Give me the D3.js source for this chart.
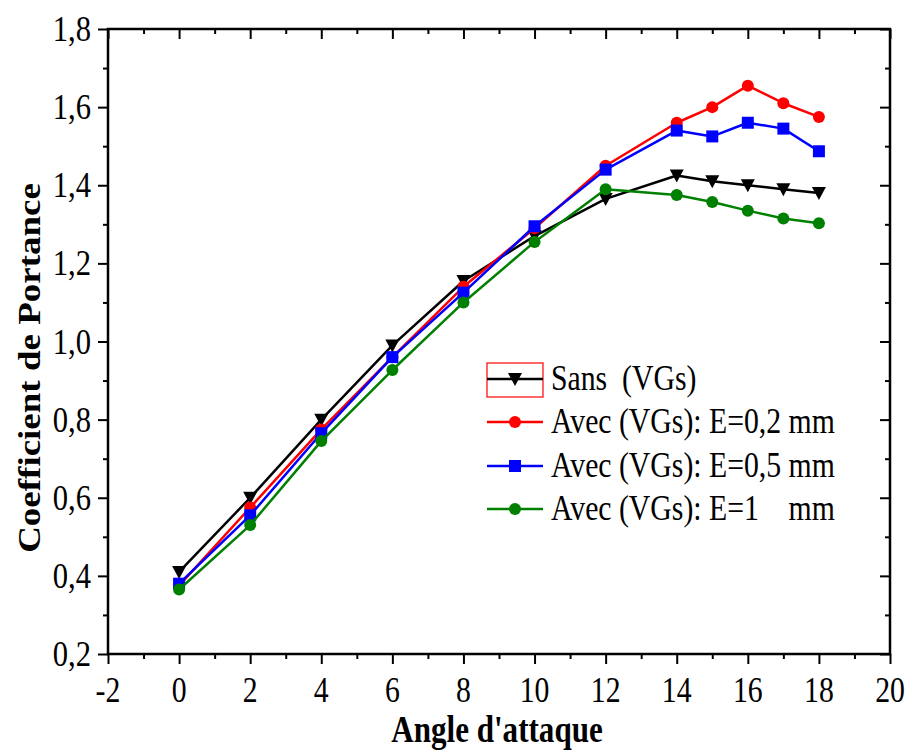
<!DOCTYPE html>
<html>
<head>
<meta charset="utf-8">
<script src="https://cdn.jsdelivr.net/npm/d3@7"></script>
<style>
  html, body { margin: 0; padding: 0; background: #fff; }
  svg { display: block; }
  text { font-family: "Liberation Serif", "Times New Roman", serif; fill: #000; white-space: pre; }
</style>
</head>
<body>
<svg id="chart" width="911" height="750"></svg>
<script>
// Angle of attack (degrees)
const angles = [0, 2, 4, 6, 8, 10, 12, 14, 15, 16, 17, 18];
// Lift coefficient for each configuration
const sansVGs = [0.41, 0.60, 0.80, 0.99, 1.155, 1.27, 1.365, 1.425, 1.41, 1.40, 1.39, 1.38];
const avecE02 = [0.375, 0.575, 0.775, 0.96, 1.14, 1.29, 1.45, 1.56, 1.60, 1.655, 1.61, 1.575];
const avecE05 = [0.38, 0.555, 0.765, 0.96, 1.125, 1.295, 1.44, 1.54, 1.525, 1.56, 1.545, 1.487];
const avecE1  = [0.365, 0.53, 0.745, 0.927, 1.10, 1.255, 1.39, 1.375, 1.357, 1.335, 1.315, 1.303];

const seriesNames = ["Sans  (VGs)", "Avec (VGs): E=0,2 mm", "Avec (VGs): E=0,5 mm", "Avec (VGs): E=1    mm"];
const seriesColors = ["#000000", "#ff0000", "#0000ff", "#008000"];
const seriesMarkers = ["triangleDown", "circle", "square", "circle"];

const xTickLabels = [-2, 0, 2, 4, 6, 8, 10, 12, 14, 16, 18, 20];
const yTickLabels = [0.2, 0.4, 0.6, 0.8, 1.0, 1.2, 1.4, 1.6, 1.8];

const svg = d3.select("#chart");
svg.append("rect").attr("width", 911).attr("height", 750).attr("fill", "#fff");

const plotL = 108, plotR = 890, plotT = 29, plotB = 654;
const x = d3.scaleLinear().domain([-2, 20]).range([plotL, plotR]);
const y = d3.scaleLinear().domain([0.2, 1.8]).range([plotB, plotT]);

const SX = 0.85; // narrow type face proportions

const xMinor = d3.range(-1, 20, 2);
const yMinor = d3.range(0.3, 1.8, 0.2).map(v => +v.toFixed(2));

function tickAxis(axisFn, scale, values, size, transform) {
  const g = svg.append("g").attr("transform", transform)
    .call(axisFn(scale).tickValues(values).tickSize(size).tickFormat(""));
  g.select(".domain").remove();
  g.selectAll(".tick line").attr("stroke", "#000").attr("stroke-width", 2);
  return g;
}

// outward ticks on bottom/left, inward on top/right
tickAxis(d3.axisBottom, x, xTickLabels, 10, `translate(0,${plotB})`);
tickAxis(d3.axisBottom, x, xMinor, 5, `translate(0,${plotB})`);
tickAxis(d3.axisLeft, y, yTickLabels, 10, `translate(${plotL},0)`);
tickAxis(d3.axisLeft, y, yMinor, 5, `translate(${plotL},0)`);
tickAxis(d3.axisTop, x, xTickLabels, -10, `translate(0,${plotT})`);
tickAxis(d3.axisTop, x, xMinor, -5, `translate(0,${plotT})`);
tickAxis(d3.axisRight, y, yTickLabels, -10, `translate(${plotR},0)`);
tickAxis(d3.axisRight, y, yMinor, -5, `translate(${plotR},0)`);

// frame
svg.append("rect")
  .attr("x", plotL).attr("y", plotT)
  .attr("width", plotR - plotL).attr("height", plotB - plotT)
  .attr("fill", "none").attr("stroke", "#000").attr("stroke-width", 2.5);

const fmt = v => d3.format(".1f")(v).replace(".", ",");

// tick labels
svg.append("g").selectAll("text").data(xTickLabels).join("text")
  .attr("transform", d => `translate(${x(d)},${702}) scale(${SX},1)`)
  .attr("text-anchor", "middle")
  .style("font-size", "35px")
  .text(d => d);

svg.append("g").selectAll("text").data(yTickLabels).join("text")
  .attr("transform", d => `translate(${91},${y(d) + 12}) scale(${SX},1)`)
  .attr("text-anchor", "end")
  .style("font-size", "36px")
  .text(d => fmt(d));

// axis titles
svg.append("text")
  .attr("transform", `translate(${(plotL + plotR) / 2 - 2},742) scale(0.84,1)`)
  .attr("text-anchor", "middle")
  .style("font-size", "37px").style("font-weight", "bold")
  .text("Angle d'attaque");

svg.append("text")
  .attr("transform", `translate(40,${368}) scale(0.84,1) rotate(-90)`)
  .attr("text-anchor", "middle")
  .style("font-size", "37px").style("font-weight", "bold")
  .text("Coefficient de Portance");

// marker shapes
function markerPath(type) {
  if (type === "triangleDown") return "M-7,-6L7,-6L0,7Z";
  if (type === "square") return "M-6,-6H6V6H-6Z";
  return d3.symbol(d3.symbolCircle, Math.PI * 6 * 6)();
}

const allSeries = [sansVGs, avecE02, avecE05, avecE1];
const line = d3.line().x(d => x(d[0])).y(d => y(d[1]));

allSeries.forEach((vals, i) => {
  const pts = angles.map((a, j) => [a, vals[j]]);
  const g = svg.append("g");
  g.append("path").attr("d", line(pts))
    .attr("fill", "none").attr("stroke", seriesColors[i]).attr("stroke-width", 2.5)
    .attr("stroke-linejoin", "round");
  g.selectAll("path.m").data(pts).join("path").attr("class", "m")
    .attr("transform", d => `translate(${x(d[0])},${y(d[1])})`)
    .attr("d", markerPath(seriesMarkers[i]))
    .attr("fill", seriesColors[i]);
});

// legend
const legX0 = 487, legX1 = 543, legTextX = 551;
const legRows = [379, 422, 466, 509];
const leg = svg.append("g");
leg.append("rect").attr("x", legX0).attr("y", 363).attr("width", legX1 - legX0).attr("height", 34)
  .attr("fill", "none").attr("stroke", "#ff0000").attr("stroke-width", 1.2);
seriesNames.forEach((name, i) => {
  const cy = legRows[i];
  leg.append("line").attr("x1", legX0).attr("x2", legX1).attr("y1", cy).attr("y2", cy)
    .attr("stroke", seriesColors[i]).attr("stroke-width", 2.5);
  leg.append("path").attr("transform", `translate(${(legX0 + legX1) / 2},${cy})`)
    .attr("d", markerPath(seriesMarkers[i])).attr("fill", seriesColors[i]);
  leg.append("text")
    .attr("transform", `translate(${legTextX},${cy + 11}) scale(${SX},1)`)
    .style("font-size", "35px")
    .text(name);
});
</script>
</body>
</html>
